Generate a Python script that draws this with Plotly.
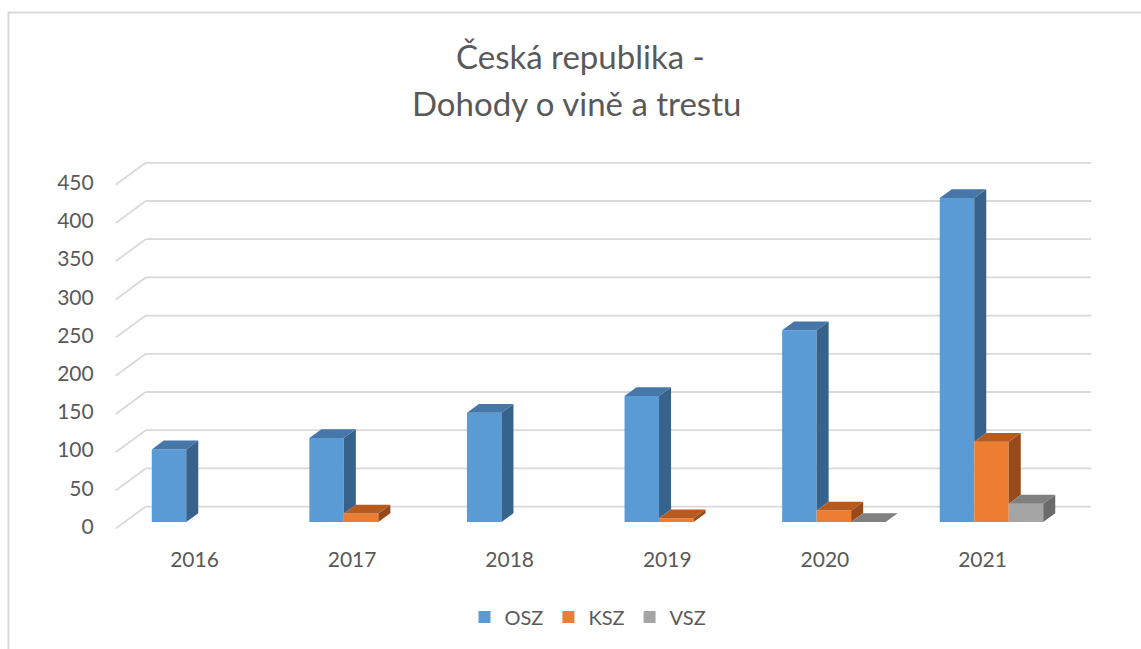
import plotly.graph_objects as go

# ---------------- data ----------------
years = ["2016", "2017", "2018", "2019", "2020", "2021"]
osz = [95, 110, 143, 165, 251, 424]
ksz = [None, 11, None, 5, 15, 105]
vsz = [None, None, None, None, 0, 24]
series_names = ["OSZ", "KSZ", "VSZ"]
y_ticks = [0, 50, 100, 150, 200, 250, 300, 350, 400, 450]
title_lines = ["Česká republika -", "Dohody o vině a trestu"]

# ---------------- style ----------------
front_colors = ["#5B9BD5", "#ED7D31", "#A5A5A5"]
top_colors = ["#4677A8", "#B65A1E", "#808080"]
side_colors = ["#37628C", "#984A18", "#6B6B6B"]
grid_color = "#D9D9D9"
text_color = "#595959"
FONT = "Lato"

W, H = 1141, 649
PX_PER_CAT = 157.6      # pixels per category
PX_PER_VAL = 0.764      # pixels per value unit
X0_PX = 203.5           # pixel x of category 0 centre (bar plane)
Y0_PX = 522             # pixel y of value 0 (bar plane)
Dx = 30 / PX_PER_CAT    # full depth, x component (data units)
Dy = 22 / PX_PER_VAL    # full depth, y component (data units)
BAR_FRONT, BAR_BACK = 0.3, 0.7
BAR_W = 34.5 / PX_PER_CAT
n_cat = len(years)

series = [osz, ksz, vsz]
fig = go.Figure()

# front faces (bars)
for s, (name, vals) in enumerate(zip(series_names, series)):
    fig.add_trace(go.Bar(
        x=[i + (s - 1) * BAR_W for i in range(n_cat)],
        y=vals, width=BAR_W, name=name,
        marker=dict(color=front_colors[s], line=dict(width=0)),
        hoverinfo="skip",
    ))

dd = BAR_BACK - BAR_FRONT
# side and top faces
for s, vals in enumerate(series):
    sx, sy, tx, ty = [], [], [], []
    for i, v in enumerate(vals):
        if v is None:
            continue
        xl = i + (s - 1) * BAR_W - BAR_W / 2
        xr = xl + BAR_W
        # top face
        tx += [xl, xr, xr + dd * Dx, xl + dd * Dx, xl, None]
        ty += [v, v, v + dd * Dy, v + dd * Dy, v, None]
        # side face (hidden part behind the next bar removed)
        lower = 0
        if s + 1 < len(series) and series[s + 1][i] is not None:
            lower = min(max(series[s + 1][i], 0), v)
        if v > lower:
            sx += [xr, xr + dd * Dx, xr + dd * Dx, xr, xr, None]
            sy += [lower, lower + dd * Dy, v + dd * Dy, v, lower, None]
    fig.add_trace(go.Scatter(x=sx, y=sy, fill="toself", mode="lines",
                             fillcolor=side_colors[s], line=dict(width=0),
                             showlegend=False, hoverinfo="skip"))
    fig.add_trace(go.Scatter(x=tx, y=ty, fill="toself", mode="lines",
                             fillcolor=top_colors[s], line=dict(width=0),
                             showlegend=False, hoverinfo="skip"))

# gridlines: back wall + side wall diagonals
shapes = []
left = -0.5
right = n_cat - 0.5
for v in y_ticks:
    shapes.append(dict(type="line", xref="x", yref="y", layer="below",
                       x0=left + BAR_BACK * Dx, x1=right + BAR_BACK * Dx,
                       y0=v + BAR_BACK * Dy, y1=v + BAR_BACK * Dy,
                       line=dict(color=grid_color, width=1.8)))
    shapes.append(dict(type="line", xref="x", yref="y", layer="below",
                       x0=left - BAR_FRONT * Dx, x1=left + BAR_BACK * Dx,
                       y0=v - BAR_FRONT * Dy, y1=v + BAR_BACK * Dy,
                       line=dict(color=grid_color, width=1.8)))
# chart border
shapes.append(dict(type="rect", xref="paper", yref="paper",
                   x0=8.5 / W, x1=1.2, y0=-0.2, y1=1 - 12.5 / H,
                   line=dict(color=grid_color, width=2)))

# y tick labels
fig.add_trace(go.Scatter(
    x=[left - BAR_FRONT * Dx - 22 / PX_PER_CAT] * len(y_ticks),
    y=[v - BAR_FRONT * Dy for v in y_ticks],
    text=[str(v) for v in y_ticks], mode="text", textposition="middle left",
    textfont=dict(family=FONT, size=21, color=text_color),
    showlegend=False, hoverinfo="skip", cliponaxis=False))

# x category labels
fig.add_trace(go.Scatter(
    x=[i - BAR_FRONT * Dx for i in range(n_cat)],
    y=[-BAR_FRONT * Dy - 33 / PX_PER_VAL] * n_cat,
    text=years, mode="text", textposition="middle center",
    textfont=dict(family=FONT, size=21, color=text_color),
    showlegend=False, hoverinfo="skip", cliponaxis=False))

annotations = [
    dict(text=title_lines[0], xref="paper", yref="paper", x=581 / W, y=1 - 56 / H,
         xanchor="center", yanchor="middle", showarrow=False,
         font=dict(family=FONT, size=33, color=text_color)),
    dict(text=title_lines[1], xref="paper", yref="paper", x=576 / W, y=1 - 103 / H,
         xanchor="center", yanchor="middle", showarrow=False,
         font=dict(family=FONT, size=33, color=text_color)),
]

fig.update_layout(
    width=W, height=H,
    margin=dict(l=0, r=0, t=0, b=0),
    paper_bgcolor="white", plot_bgcolor="white",
    barmode="overlay",
    xaxis=dict(visible=False, range=[(0 - X0_PX) / PX_PER_CAT, (W - X0_PX) / PX_PER_CAT],
               fixedrange=True),
    yaxis=dict(visible=False, range=[(Y0_PX - H) / PX_PER_VAL, Y0_PX / PX_PER_VAL],
               fixedrange=True),
    shapes=shapes,
    annotations=annotations,
    showlegend=True,
    legend=dict(orientation="h", x=588 / W, xanchor="center", y=1 - 617 / H,
                yanchor="middle", font=dict(family=FONT, size=20, color=text_color),
                bgcolor="rgba(0,0,0,0)", traceorder="normal", itemwidth=30),
)

fig.write_html("out.html")
